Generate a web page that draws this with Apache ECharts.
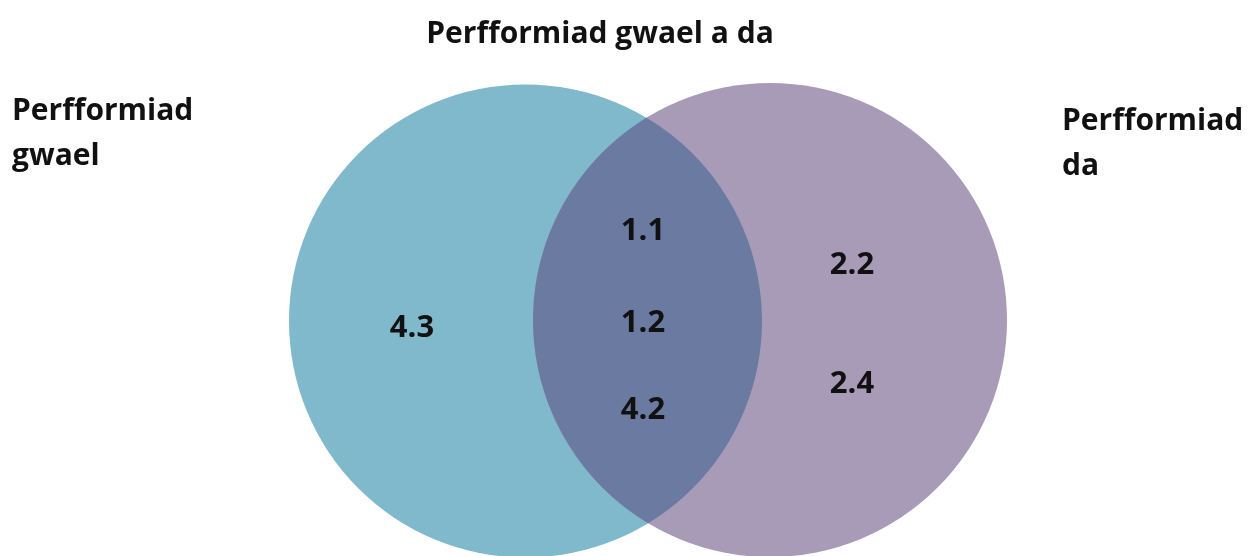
<!DOCTYPE html>
<html><head><meta charset="utf-8">
<script src="https://cdn.jsdelivr.net/npm/echarts@6/dist/echarts.min.js"></script>
<style>html,body{margin:0;padding:0;background:#fff}#c{width:1257px;height:556px}</style>
</head><body><div id="c"></div>
<script>
// ---- data ----
const setNames = ['Perfformiad\ngwael', 'Perfformiad\nda'];
const overlapName = 'Perfformiad gwael a da';
const leftOnlyValues = ['4.3'];
const overlapValues = ['1.1', '1.2', '4.2'];
const rightOnlyValues = ['2.2', '2.4'];

// ---- layout (drawing units on hidden axes) ----
const circles = [[525.5, 321, 236.5], [770, 320, 237]];
const colors = ['#7fb9cb', '#a89bb8'];
const overlapColor = '#6a7aa1';
const leftPos = [[412, 328]];
const overlapPos = [[643, 231], [643, 323], [643, 410]];
const rightPos = [[852, 265], [852, 384]];
const font = '"Open Sans", sans-serif';

const chart = echarts.init(document.getElementById('c'));

function circleItem(params, api) {
  const i = params.dataIndex;
  const c = circles[i];
  const p = api.coord([c[0], c[1]]);
  const r = api.size([c[2], 0])[0];
  return {type: 'circle', shape: {cx: p[0], cy: p[1], r: r}, style: {fill: colors[i]}};
}
function lensItem(params, api) {
  const a = circles[0], b = circles[1];
  const pa = api.coord([a[0], a[1]]), pb = api.coord([b[0], b[1]]);
  const ra = api.size([a[2], 0])[0], rb = api.size([b[2], 0])[0];
  const dx = pb[0] - pa[0], dy = pb[1] - pa[1];
  const d = Math.sqrt(dx * dx + dy * dy);
  const l = (ra * ra - rb * rb + d * d) / (2 * d);
  const h = Math.sqrt(ra * ra - l * l);
  const mx = pa[0] + l * dx / d, my = pa[1] + l * dy / d;
  const x1 = mx + h * dy / d, y1 = my - h * dx / d;
  const x2 = mx - h * dy / d, y2 = my + h * dx / d;
  const path = `M${x1} ${y1} A${rb} ${rb} 0 0 0 ${x2} ${y2} A${ra} ${ra} 0 0 0 ${x1} ${y1} Z`;
  return {type: 'path', shape: {pathData: path}, style: {fill: overlapColor}};
}
function textItem(list) {
  return function (params, api) {
    const p = api.coord(list[params.dataIndex].pos);
    return {type: 'text', x: p[0], y: p[1], style: {text: list[params.dataIndex].text, fill: '#111', font: 'bold 31px ' + font, align: 'center', verticalAlign: 'middle'}};
  };
}
const numbers = [];
leftOnlyValues.forEach((v, i) => numbers.push({text: v, pos: leftPos[i]}));
overlapValues.forEach((v, i) => numbers.push({text: v, pos: overlapPos[i]}));
rightOnlyValues.forEach((v, i) => numbers.push({text: v, pos: rightPos[i]}));

const titles = [
  {text: overlapName, pos: [600, 34], align: 'center'},
  {text: setNames[0], pos: [12, 134], align: 'left'},
  {text: setNames[1], pos: [1062, 144], align: 'left'}
];

chart.setOption({
  animation: false,
  grid: {left: 0, right: 0, top: 0, bottom: 0},
  xAxis: {type: 'value', min: 0, max: 1257, show: false},
  yAxis: {type: 'value', min: 0, max: 556, inverse: true, show: false},
  series: [
    {type: 'custom', renderItem: circleItem, data: circles.map(c => [c[0], c[1]]), silent: true},
    {type: 'custom', renderItem: lensItem, data: [[0, 0]], silent: true},
    {type: 'custom', renderItem: textItem(numbers), data: numbers.map(n => n.pos), silent: true},
    {type: 'custom', renderItem: function (params, api) {
      const t = titles[params.dataIndex];
      const p = api.coord(t.pos);
      return {type: 'text', x: p[0], y: p[1], style: {text: t.text, fill: '#111', font: 'bold 30px ' + font, align: t.align, verticalAlign: 'middle', lineHeight: 45}};
    }, data: titles.map(t => t.pos), silent: true}
  ]
});
</script></body></html>
